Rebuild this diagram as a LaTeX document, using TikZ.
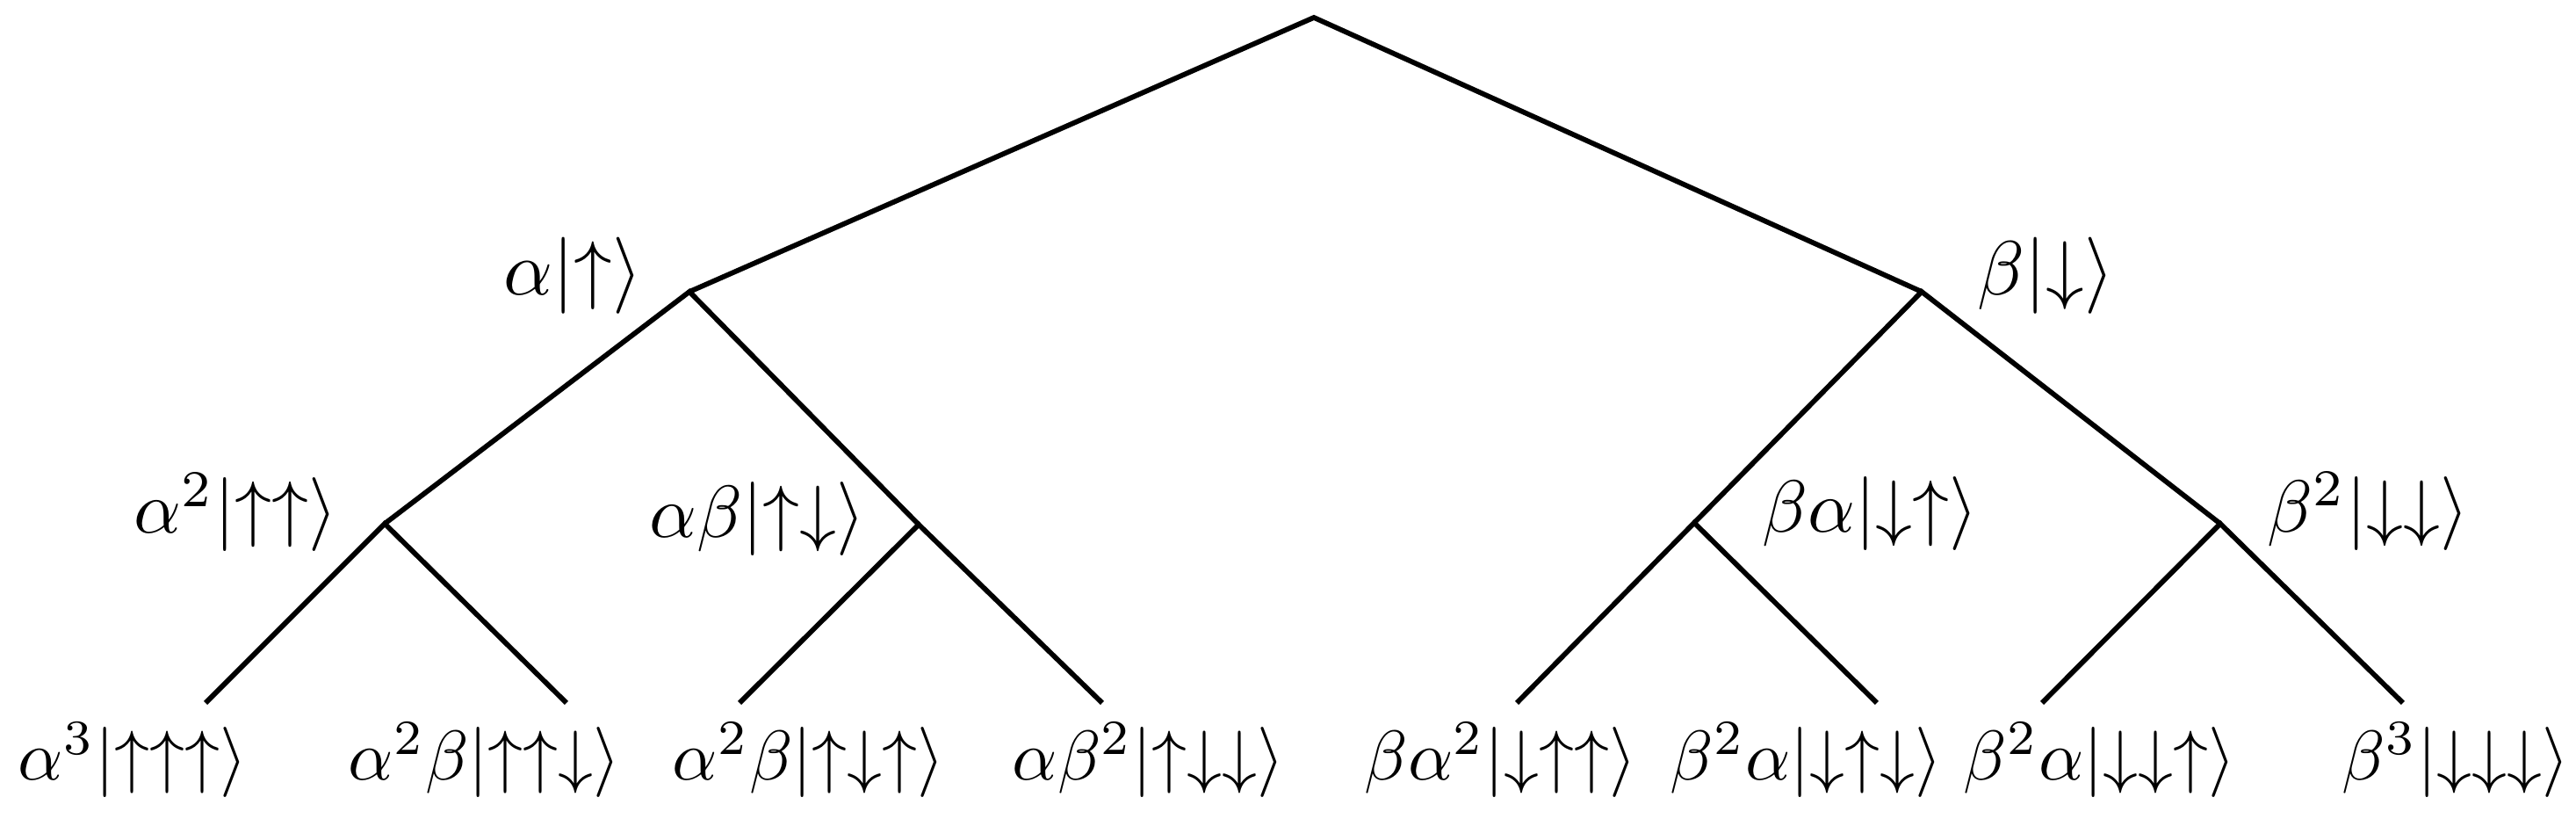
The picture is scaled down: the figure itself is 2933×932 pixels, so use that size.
\documentclass[tikz,border=0pt]{standalone}
\begin{document}
\begin{tikzpicture}[x=0.125pt,y=-0.125pt,
  edge/.style={line width=0.72pt,line join=miter},
  lbl/.style={inner sep=0pt},
  big/.style={scale=1.09},
  mid/.style={scale=1.05}]
\useasboundingbox (0,0) rectangle (2933,932);
% junctions
\coordinate (r) at (1496,20);
\coordinate (a) at (785,332);
\coordinate (b) at (2188,332);
\coordinate (aa) at (438,596);
\coordinate (ab) at (1046,597);
\coordinate (ba) at (1929,595);
\coordinate (bb) at (2528,596);
\coordinate (l1) at (234,800);
\coordinate (l2) at (645,800);
\coordinate (l3) at (842,800);
\coordinate (l4) at (1255,800);
\coordinate (l5) at (1727,800);
\coordinate (l6) at (2137,800);
\coordinate (l7) at (2325,800);
\coordinate (l8) at (2736,800);
% edges
\draw[edge] (a) -- (r) -- (b);
\draw[edge] (aa) -- (a) -- (ab);
\draw[edge] (ba) -- (b) -- (bb);
\draw[edge] (l1) -- (aa) -- (l2);
\draw[edge] (l3) -- (ab) -- (l4);
\draw[edge] (l5) -- (ba) -- (l6);
\draw[edge] (l7) -- (bb) -- (l8);
% labels
\node[lbl,big,anchor=base east] (ta) at (733,336) {$\alpha|{\uparrow}\rangle$};
\node[lbl,big,anchor=base west] (tb) at (2250,336) {$\beta|{\downarrow}\rangle$};
\node[lbl,mid,anchor=base east] (taa) at (386,607) {$\alpha^2|{\uparrow\uparrow}\rangle$};
\node[lbl,mid,anchor=base east] (tab) at (987,612) {$\alpha\beta|{\uparrow\downarrow}\rangle$};
\node[lbl,mid,anchor=base west] (tba) at (2005,606) {$\beta\alpha|{\downarrow\uparrow}\rangle$};
\node[lbl,mid,anchor=base west] (tbb) at (2580,606) {$\beta^2|{\downarrow\downarrow}\rangle$};
\node[lbl,anchor=base] (t1) at (151,888) {$\alpha^3|{\uparrow\uparrow\uparrow}\rangle$};
\node[lbl,anchor=base] (t2) at (552,888) {$\alpha^2\beta|{\uparrow\uparrow\downarrow}\rangle$};
\node[lbl,anchor=base] (t3) at (921,888) {$\alpha^2\beta|{\uparrow\downarrow\uparrow}\rangle$};
\node[lbl,anchor=base] (t4) at (1308,888) {$\alpha\beta^2|{\uparrow\downarrow\downarrow}\rangle$};
\node[lbl,anchor=base] (t5) at (1709,888) {$\beta\alpha^2|{\downarrow\uparrow\uparrow}\rangle$};
\node[lbl,anchor=base] (t6) at (2057,888) {$\beta^2\alpha|{\downarrow\uparrow\downarrow}\rangle$};
\node[lbl,anchor=base] (t7) at (2391,888) {$\beta^2\alpha|{\downarrow\downarrow\uparrow}\rangle$};
\node[lbl,anchor=base] (t8) at (2796,888) {$\beta^3|{\downarrow\downarrow\downarrow}\rangle$};
\end{tikzpicture}
\end{document}
